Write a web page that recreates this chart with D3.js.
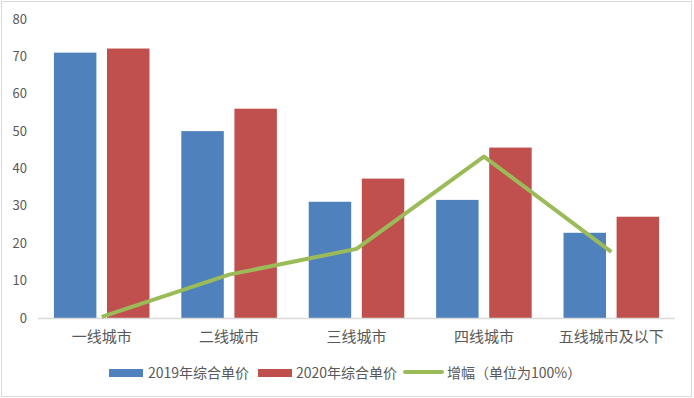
<!DOCTYPE html>
<html>
<head>
<meta charset="utf-8">
<script src="https://cdn.jsdelivr.net/npm/d3@7"></script>
<style>
  body { margin: 0; background: #fff; }
  svg { display: block; font-family: "Noto Sans CJK SC", "DejaVu Sans", sans-serif; }
  .tick-label { fill: #595959; font-size: 13px; }
  .cat-label { fill: #595959; font-size: 15px; }
  .legend-text { fill: #595959; font-size: 14px; }
</style>
</head>
<body>
<svg id="chart" width="694" height="398"></svg>
<script>
const categories = ["一线城市", "二线城市", "三线城市", "四线城市", "五线城市及以下"];
const price2019 = [71, 50, 31.1, 31.6, 22.8];
const price2020 = [72.1, 56, 37.3, 45.6, 27.1];
const growth = [0.3, 11.6, 18.5, 43.2, 17.7];
const yTicks = [0, 10, 20, 30, 40, 50, 60, 70, 80];
const seriesNames = ["2019年综合单价", "2020年综合单价", "增幅（单位为100%）"];
const colors = ["#4F81BD", "#C0504D", "#9BBB59"];

const svg = d3.select("#chart");
const plot = { left: 38, right: 675, top: 19, bottom: 318 };

// frame
svg.append("rect")
  .attr("x", 1.5).attr("y", 1.5)
  .attr("width", 690).attr("height", 395)
  .attr("fill", "#fff")
  .attr("stroke", "#d9d9d9");

const x0 = d3.scaleBand()
  .domain(categories)
  .range([plot.left, plot.right])
  .paddingInner(0.25)
  .paddingOuter(0.125);

const x1 = d3.scaleBand()
  .domain([0, 1])
  .range([0, x0.bandwidth()])
  .paddingInner(0.2);

const y = d3.scaleLinear()
  .domain([0, 80])
  .range([plot.bottom, plot.top]);

// y tick labels, no axis line
svg.append("g")
  .selectAll("text")
  .data(yTicks)
  .join("text")
  .attr("class", "tick-label")
  .attr("x", 27)
  .attr("y", d => y(d))
  .attr("dy", "0.35em")
  .attr("text-anchor", "end")
  .text(d => d);

// bars
const groups = svg.append("g")
  .selectAll("g")
  .data(categories)
  .join("g")
  .attr("transform", d => `translate(${x0(d)},0)`);

groups.selectAll("rect")
  .data((d, i) => [price2019[i], price2020[i]])
  .join("rect")
  .attr("x", (d, j) => x1(j))
  .attr("y", d => y(d))
  .attr("width", x1.bandwidth())
  .attr("height", d => y(0) - y(d))
  .attr("fill", (d, j) => colors[j]);

// x axis line
svg.append("line")
  .attr("x1", plot.left).attr("x2", plot.right)
  .attr("y1", y(0) + 0.5).attr("y2", y(0) + 0.5)
  .attr("stroke", "#d9d9d9")
  .attr("stroke-width", 1.5);

// category labels
svg.append("g")
  .selectAll("text")
  .data(categories)
  .join("text")
  .attr("class", "cat-label")
  .attr("x", d => x0(d) + x0.bandwidth() / 2)
  .attr("y", 342)
  .attr("text-anchor", "middle")
  .text(d => d);

// growth line
const line = d3.line()
  .x((d, i) => x0(categories[i]) + x0.bandwidth() / 2)
  .y(d => y(d));

svg.append("path")
  .datum(growth)
  .attr("d", line)
  .attr("fill", "none")
  .attr("stroke", colors[2])
  .attr("stroke-width", 4)
  .attr("stroke-linejoin", "round");

// legend
const legendY = 373;
const legend = [
  { x: 109, type: "rect", textX: 148 },
  { x: 258, type: "rect", textX: 296 },
  { x: 405, type: "line", textX: 447 }
];

legend.forEach((l, i) => {
  if (l.type === "rect") {
    svg.append("rect")
      .attr("x", l.x).attr("y", legendY - 4)
      .attr("width", 34).attr("height", 8)
      .attr("fill", colors[i]);
  } else {
    svg.append("line")
      .attr("x1", l.x).attr("x2", l.x + 37)
      .attr("y1", legendY - 1).attr("y2", legendY - 1)
      .attr("stroke", colors[i])
      .attr("stroke-width", 4)
      .attr("stroke-linecap", "round");
  }
  svg.append("text")
    .attr("class", "legend-text")
    .attr("x", l.textX)
    .attr("y", legendY)
    .attr("dy", "0.35em")
    .text(seriesNames[i]);
});
</script>
</body>
</html>
